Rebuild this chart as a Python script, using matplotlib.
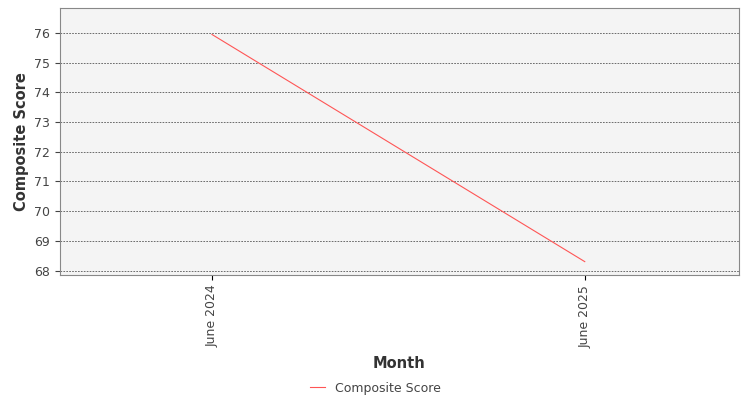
import matplotlib
matplotlib.use("Agg")
import matplotlib.pyplot as plt

months = ["June 2024", "June 2025"]
scores = [75.95, 68.3]

fig = plt.figure(figsize=(7.5, 4), dpi=100)
ax = fig.add_axes([0.08, 0.3125, 0.905, 0.6675])
ax.set_facecolor("#f4f4f4")
x = list(range(len(months)))
ax.plot(x, scores, color="#ff5555", lw=0.8, label="Composite Score")
ax.set_xlim(-0.4075, 1.413)
ax.set_ylim(67.85, 76.84)
ax.set_yticks(range(68, 77))
ax.set_xticks(x)
ax.set_xticklabels(months, rotation=90, fontsize=9, color="#444444")
ax.tick_params(axis="y", labelsize=9, colors="#444444")
ax.grid(axis="y", color="#555555", ls=(0, (2, 1.5)), lw=0.6)
for s in ax.spines.values():
    s.set_color("#888888")
ax.set_xlabel("Month", fontsize=10.5, color="#333333", fontweight="semibold", labelpad=6)
ax.set_ylabel("Composite Score", fontsize=10.5, color="#333333", fontweight="semibold")
fig.legend(loc="lower center", bbox_to_anchor=(0.5, -0.015), frameon=False, fontsize=9,
           labelcolor="#444444", handlelength=1.2)
fig.savefig("out.png", dpi=100)
